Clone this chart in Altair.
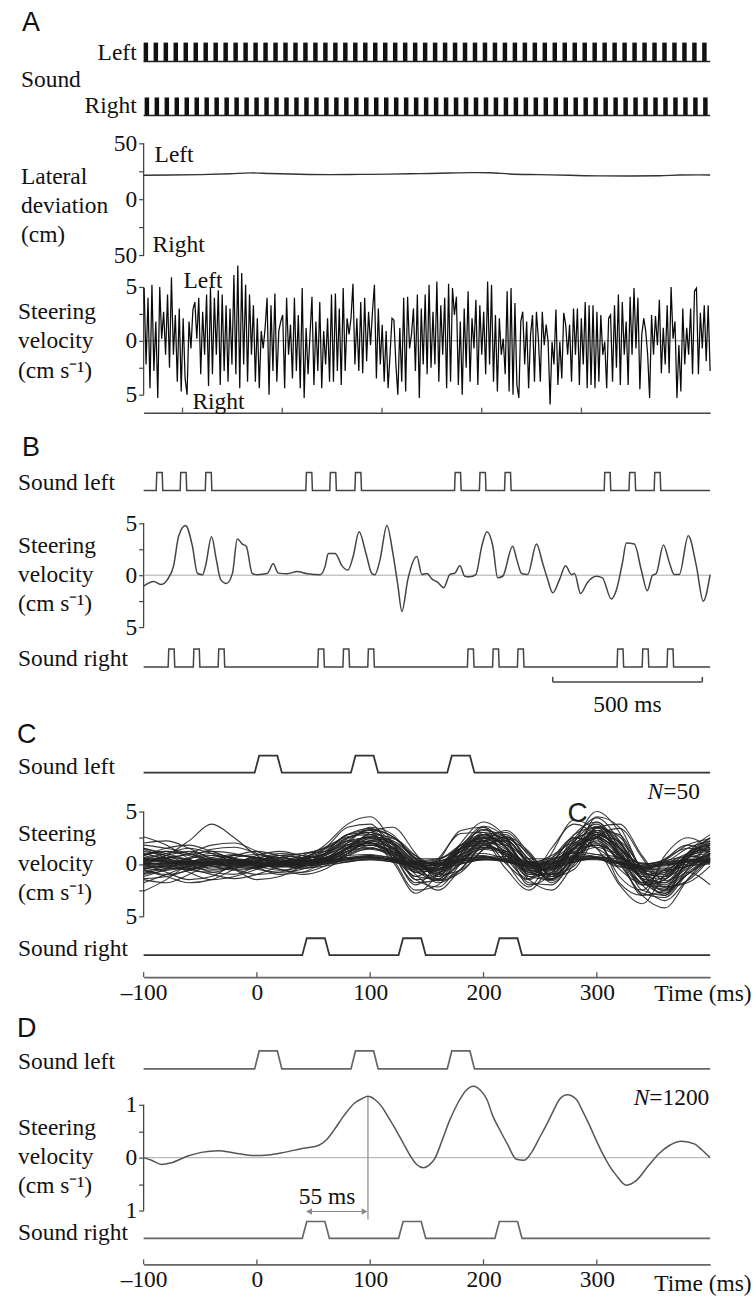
import altair as alt
import numpy as np
import pandas as pd

SERIF = "Liberation Serif"
SANS = "Liberation Sans"
X0 = 143   # image x of the plot-area left edge
W = 568    # plot-area width

# ---------------------------------------------------------------- data
# Panel A (time in s)
A_DOMAIN = [-0.39, 5.29]
A_TICKS = [0, 1, 2, 3, 4]
A_LEFT_ON = [-0.39, -0.29, -0.19, -0.09, 0.01, 0.11, 0.21, 0.31, 0.41, 0.51, 0.61, 0.71, 0.81, 0.91,
             1.01, 1.11, 1.21, 1.31, 1.41, 1.51, 1.61, 1.71, 1.81, 1.91, 2.01, 2.11, 2.21, 2.31, 2.41,
             2.51, 2.61, 2.71, 2.81, 2.91, 3.01, 3.11, 3.21, 3.31, 3.41, 3.51, 3.61, 3.71, 3.81, 3.91,
             4.01, 4.11, 4.21, 4.31, 4.41, 4.51, 4.61, 4.71, 4.81, 4.91, 5.01, 5.11, 5.21]
A_RIGHT_ON = [-0.38, -0.28, -0.18, -0.08, 0.02, 0.12, 0.22, 0.32, 0.42, 0.52, 0.62, 0.72, 0.82, 0.92,
              1.02, 1.12, 1.22, 1.32, 1.42, 1.52, 1.62, 1.72, 1.82, 1.92, 2.02, 2.12, 2.22, 2.32, 2.42,
              2.52, 2.62, 2.72, 2.82, 2.92, 3.02, 3.12, 3.22, 3.32, 3.42, 3.52, 3.62, 3.72, 3.82, 3.92,
              4.02, 4.12, 4.22, 4.32, 4.42, 4.52, 4.62, 4.72, 4.82, 4.92, 5.02, 5.12, 5.22]
A_PULSE = 0.045
A_LAT_T = [-0.39, -0.12, 0.18, 0.48, 0.68, 0.88, 1.18, 1.48, 1.78, 2.08, 2.38, 2.68, 2.88, 3.08, 3.28,
           3.58, 3.88, 4.18, 4.48, 4.78, 4.98, 5.18, 5.29]
A_LAT_V = [21.5, 21.6, 22.0, 22.8, 23.6, 23.0, 22.3, 22.0, 22.2, 22.4, 22.9, 23.4, 23.8, 23.7, 22.6,
           22.0, 21.4, 20.9, 20.8, 21.0, 21.6, 21.8, 21.7]
A_STEER_1 = [4.9, -2.2, 4.0, -4.4, 5.2, -2.8, 1.8, -5.3, 5.0, 0.2, 2.7, -1.3, 4.3, -2.5, 5.9, -1.3, 2.4,
             -3.8, 3.0, -4.7, 2.1, -3.5, -5.0, 1.8, -0.7, 2.9, 3.6, 0.2, 4.0, -3.1, 2.7, -1.3, 4.3, -4.2,
             4.9, -3.1, 4.0, -1.3, 4.7, -4.1, 4.3, -2.8, 3.3, -3.8, 3.0, -2.2, 6.1, -3.1, 7.0, -4.4, 6.3,
             -2.2, 5.2, -3.8, 4.3, -1.3, 3.3, -3.8, 2.1, -4.4, 0.9, -0.7, 1.2, 4.0, -5.0, 3.3, -2.8, 4.4,
             -3.8, 0.9, 1.8, 2.4, -4.4, 4.0, -1.3, 1.5, -3.5, 4.0, -2.8, 2.4, -4.4, 4.9, -5.3, 1.2, -3.1,
             0.6, 4.1, -4.1, 1.8, -2.8, 3.6, -4.4, 0.9, -2.2, 2.1, -3.8]
A_STEER_2 = [4.3, -3.8, 4.4, -2.8, 3.0, -4.1, 4.9, -2.8, 2.1, 0.6, 2.1, 5.3, -2.2, 2.1, -2.8, 3.6, -3.0,
             4.0, -1.9, 2.7, -0.4, 2.7, 5.2, -3.5, 3.0, -2.2, 1.5, -3.8, 0.9, -4.4, -1.3, 2.1, 1.9, -2.2,
             -5.0, 1.2, -3.8, 4.0, -4.7, 4.1, -0.7, 0.6, 3.0, -2.8, 4.3, -5.3, 3.0, -2.2, 4.3, -3.1, 5.2,
             -2.5, 2.7, -2.2, 5.5, -3.8, 3.3, -1.3, 4.0, -4.4, 5.3, -3.8, 4.9, 2.4, 4.1, -4.1, 1.8, -5.0,
             3.0, -2.5, 4.6, -3.8, 2.1, -0.7, 3.8, -4.1, 3.3, -1.3, 2.7, -3.1, 5.5, -2.2, 5.2, -3.8, 2.4,
             -4.7, 2.1, -1.3, 0.2, -3.1, 4.6, -4.7, 4.9, -5.0, 3.5, -4.1, -5.3, 1.8, 2.7, -2.2]
A_STEER_3 = [1.8, -4.4, 0.6, 2.4, -3.8, 2.7, 0.2, -3.8, 2.7, -0.4, 1.5, -0.1, -5.9, -0.1, -2.2, 2.9,
             -4.1, -0.1, -3.5, 2.6, 1.5, -1.3, 1.5, -3.8, 3.0, -1.3, 3.0, -4.1, 2.1, -2.2, 3.6, -4.4, 3.3,
             -4.1, 3.3, -4.4, 2.7, -3.8, 2.4, -1.3, -0.1, -4.4, 2.1, 2.4, -3.8, 3.3, -2.5, 4.3, -4.1, 3.6,
             -1.3, 1.8, -4.1, 4.1, -1.3, 4.9, -0.7, 4.0, -4.5, 0.6, 2.1, 0.9, -1.3, -5.3, 2.4, -1.3, 2.3,
             -0.4, 3.8, -3.0, 1.2, -2.2, 3.3, -3.0, 5.0, 0.2, 1.8, -5.3, -0.4, -4.7, 3.0, -2.2, 1.2, -1.3,
             3.0, -3.1, 4.6, 4.9, -3.1, 2.6, -0.7, 3.3, -1.9, 3.3, -2.8]

# Panel B (time in ms)
B_DOMAIN = [0, 1893]
B_LEFT_ON = [43, 123, 207, 543, 623, 707, 1040, 1123, 1207, 1540, 1623, 1707]
B_RIGHT_ON = [83, 167, 250, 583, 667, 750, 1083, 1167, 1250, 1583, 1667, 1750]
B_PULSE = 20
B_T = [0, 33, 57, 80, 100, 117, 140, 163, 180, 197, 207, 227, 243, 257, 277, 297, 313, 330, 343, 363,
       380, 413, 433, 450, 480, 513, 547, 590, 607, 617, 640, 663, 683, 700, 720, 743, 763, 773, 790,
       813, 833, 850, 863, 883, 913, 930, 947, 963, 983, 1003, 1023, 1040, 1057, 1073, 1090, 1110,
       1130, 1147, 1167, 1183, 1200, 1233, 1247, 1263, 1283, 1313, 1333, 1350, 1367, 1390, 1410, 1430,
       1440, 1460, 1483, 1513, 1533, 1563, 1580, 1600, 1613, 1640, 1663, 1683, 1700, 1713, 1737, 1757,
       1773, 1790, 1820, 1847, 1870, 1893]
B_V = [-1.06, -0.6, -0.9, -0.4, 0.87, 3.75, 4.8, 2.8, 0.16, 0.05, 0.9, 3.7, 1.5, -0.4, -0.8, 0.2, 3.5,
       3.0, 2.8, 0.16, 0.05, 0.16, 1.1, 0.2, 0.15, 0.35, 0.15, 0.05, 0.9, 2.1, 2.1, 0.9, 0.5, 1.8, 4.2,
       2.1, 0.16, 0.05, 1.5, 4.8, 2.1, -1.06, -3.5, -0.4, 1.8, 0.06, 0.16, -0.35, -0.7, -1.2, 0.06, 0.2,
       0.9, -0.1, -0.15, 0.06, 2.8, 4.2, 2.8, -0.25, -0.1, 2.8, 1.5, 0.16, 0.06, 3.0, 1.2, -0.4, -1.7,
       -0.4, 0.9, 0.06, 0.16, -1.76, -0.7, -0.1, -0.25, -2.3, -1.4, 1.2, 3.1, 3.0, 0.5, -1.5, -0.03,
       0.16, 2.9, 1.2, 0.06, 0.06, 3.8, 0.9, -2.5, 0.06]
B_BAR = [1367, 1867]

# Panels C and D (time in ms)
CD_DOMAIN = [-100, 400]
CD_TICKS = [-100, 0, 100, 200, 300]
CD_LEFT_ON = [0, 85, 170]
CD_RIGHT_ON = [42, 127, 212]
CD_PULSE = 20
C_T = [-100, -80, -60, -40, -20, 0, 20, 40, 60, 80, 100, 120, 140, 160, 180, 200, 220, 240, 260, 280,
       300, 320, 340, 360, 380, 400]
C_TRACES = [
    [0.5, 0.2, -0.3, 0.1, 0.4, 0.2, 0.0, 0.3, 1.2, 2.8, 3.2, 1.5, -1.2, 0.5, 2.9, 3.0, 0.5, -1.4, 1.5, 3.8, 2.5, -1.2, -2.5, 0.3, 1.8, 1.0],
    [1.2, 0.8, 0.3, -0.2, -0.5, -0.3, 0.2, 0.6, 1.5, 3.5, 3.8, 1.0, -2.0, 0.2, 3.2, 3.5, 0.2, -2.2, 1.0, 4.2, 3.0, -1.8, -3.0, 0.8, 2.5, 1.5],
    [-0.5, -1.0, -0.6, 0.2, 0.8, 0.5, 0.0, -0.2, 0.5, 1.8, 2.5, 2.0, 0.0, -0.5, 1.5, 2.8, 1.5, -1.0, 0.0, 2.8, 3.5, 0.5, -2.0, -1.5, 1.0, 2.0],
    [0.2, 0.3, 0.1, 0.0, 0.2, 0.1, 0.0, 0.1, 0.3, 0.6, 0.8, 0.4, 0.0, 0.2, 0.7, 0.8, 0.2, -0.2, 0.4, 1.0, 0.6, -0.3, -0.4, 0.2, 0.4, 0.3],
    [2.6, 1.8, 0.5, -0.5, -0.2, 0.5, 1.0, 0.8, 0.5, 1.5, 2.0, 0.8, -0.8, -0.3, 1.8, 2.2, 0.0, -1.5, 0.5, 2.5, 2.0, -0.5, -1.8, -0.5, 0.8, 0.2],
    [-2.6, -1.5, 0.0, 0.8, 0.5, -0.2, -0.6, -0.3, 0.8, 2.2, 2.0, 0.2, -2.8, -1.0, 1.5, 2.0, -0.5, -2.5, 0.0, 2.5, 1.5, -2.0, -3.8, -1.0, 0.5, 0.0],
    [0.0, 0.8, 2.2, 3.8, 2.5, 0.8, -0.2, 0.0, 0.6, 1.2, 1.5, 1.0, 0.3, 0.5, 1.5, 1.8, 1.0, 0.0, 0.8, 2.0, 1.5, 0.0, -0.8, 0.5, 1.5, 1.2],
    [0.8, 0.2, -0.8, -1.5, -1.2, -0.5, 0.2, 0.5, 1.0, 2.0, 2.6, 2.2, 0.8, -0.2, 0.8, 2.2, 2.5, 0.5, -0.8, 1.0, 3.2, 2.8, -0.5, -2.0, 0.0, 1.8],
    [-1.2, -0.5, 0.5, 1.0, 0.5, -0.3, -1.0, -0.8, 0.2, 1.5, 3.0, 3.5, 1.0, -1.5, -0.5, 2.0, 3.2, 1.0, -1.8, 0.5, 4.5, 3.5, -0.8, -3.0, -0.5, 2.0],
    [-0.3, -0.2, 0.0, 0.2, 0.1, -0.1, -0.2, 0.0, 0.2, 0.5, 0.7, 0.3, -0.3, 0.0, 0.5, 0.7, 0.2, -0.3, 0.2, 0.8, 0.6, -0.2, -0.5, 0.0, 0.3, 0.2],
    [1.8, 1.5, 1.0, 0.2, -0.5, -1.0, -0.8, 0.0, 1.0, 2.5, 3.0, 1.8, -0.5, -0.8, 1.5, 3.3, 2.0, -0.5, -1.0, 1.5, 4.0, 1.5, -2.5, -3.0, 0.5, 2.5],
    [0.0, -0.8, -1.5, -1.2, 0.0, 0.8, 1.2, 0.8, 0.5, 1.5, 2.8, 2.5, 0.5, -0.8, 0.5, 2.5, 2.8, 0.0, -1.5, 0.8, 3.5, 2.0, -1.0, -2.2, -0.2, 1.0],
    [0.5, 1.0, 1.5, 1.0, 0.2, -0.2, 0.0, 0.5, 1.8, 3.8, 4.5, 2.0, -1.5, -1.0, 2.0, 4.0, 2.5, -1.2, -1.5, 2.0, 5.0, 3.0, -1.5, -2.8, 0.5, 2.0],
    [0.4, 0.2, -0.1, -0.2, 0.0, 0.2, 0.3, 0.2, 0.2, 0.4, 0.6, 0.4, 0.1, 0.1, 0.4, 0.6, 0.3, 0.0, 0.2, 0.6, 0.5, 0.0, -0.2, 0.1, 0.4, 0.5],
    [-1.5, -1.8, -1.0, 0.0, 0.5, 0.2, -0.5, -0.8, -0.2, 1.0, 2.2, 2.0, 0.0, -1.8, -0.5, 1.8, 2.2, 0.2, -1.2, 0.8, 2.8, 1.5, -1.5, -2.5, -1.0, 0.5],
    [1.0, 0.5, 0.0, 0.2, 0.8, 1.2, 0.8, 0.2, 0.5, 2.0, 3.5, 2.8, 0.2, -1.0, 1.0, 3.0, 2.2, -0.3, -0.5, 2.2, 3.8, 1.0, -2.0, -1.5, 1.0, 1.8],
    [-0.2, -0.4, -0.5, -0.3, -0.1, 0.0, -0.2, -0.4, -0.2, 0.2, 0.4, 0.2, -0.3, -0.4, 0.0, 0.4, 0.3, -0.2, -0.3, 0.2, 0.5, 0.1, -0.5, -0.6, -0.2, 0.0],
    [0.2, 0.8, 1.2, 0.5, -0.5, -1.5, -1.2, -0.2, 1.0, 2.8, 3.0, 0.5, -2.5, -2.0, 1.0, 3.5, 1.5, -2.0, -1.0, 2.8, 4.0, 0.8, -3.0, -2.5, 1.0, 2.8],
    [1.5, 0.8, 0.0, -0.8, -1.0, -0.2, 0.5, 1.0, 1.2, 1.8, 2.2, 1.5, 0.5, 0.5, 1.5, 2.5, 2.0, 0.5, 0.5, 2.0, 2.8, 1.5, 0.0, 0.2, 1.5, 2.2],
    [-0.8, -0.2, 0.5, 0.8, 0.5, 0.0, -0.5, -1.0, -0.5, 0.8, 1.8, 1.2, -1.0, -2.5, -0.5, 1.5, 1.0, -1.5, -2.5, 0.0, 2.5, 1.0, -2.0, -3.5, -1.5, 0.5],
    [0.1, 0.0, 0.2, 0.4, 0.3, 0.1, 0.0, 0.1, 0.4, 0.8, 0.9, 0.5, 0.1, 0.3, 0.8, 1.0, 0.5, 0.1, 0.4, 1.1, 0.9, 0.2, -0.1, 0.3, 0.7, 0.6],
    [0.8, 1.5, 1.8, 1.2, 0.5, 0.0, -0.3, 0.0, 0.8, 2.2, 3.3, 2.6, 0.6, 0.0, 1.2, 2.8, 2.4, 0.2, -0.2, 1.8, 3.6, 2.2, -0.8, -1.2, 0.8, 2.2],
    [-0.6, -1.2, -1.8, -1.5, -0.5, 0.3, 0.8, 0.6, 0.2, 0.8, 1.5, 0.8, -1.5, -2.2, 0.0, 1.8, 0.8, -1.8, -2.0, 0.5, 2.2, 0.2, -2.8, -3.2, -1.0, 0.2],
    [-0.1, 0.1, 0.3, 0.2, 0.0, -0.2, -0.1, 0.1, 0.3, 0.6, 0.7, 0.4, 0.0, 0.0, 0.4, 0.7, 0.4, 0.0, 0.1, 0.7, 0.7, 0.2, -0.2, -0.1, 0.3, 0.5],
    [2.0, 2.2, 1.5, 0.5, 0.0, 0.3, 0.8, 1.0, 1.5, 2.5, 3.0, 2.0, 0.0, -0.2, 1.8, 3.2, 2.5, 0.0, -0.5, 1.5, 3.2, 2.0, -0.5, -1.0, 1.0, 2.5],
    [0.0, -0.3, -0.5, 0.0, 0.6, 0.9, 0.5, 0.0, 0.3, 1.5, 2.0, 0.8, -1.8, -1.5, 0.8, 2.5, 1.0, -1.2, -0.8, 1.5, 2.5, 0.0, -3.0, -4.2, -1.5, 1.0],
    [0.6, 0.0, -0.6, -0.8, -0.3, 0.3, 0.6, 0.3, 0.6, 1.8, 2.6, 1.8, -0.4, -0.6, 1.4, 2.6, 1.6, -0.6, -0.4, 1.6, 3.0, 1.2, -1.2, -1.4, 0.6, 1.5],
    [0.3, 0.4, 0.2, 0.0, -0.1, 0.0, 0.2, 0.3, 0.3, 0.5, 0.6, 0.3, -0.1, -0.1, 0.3, 0.5, 0.3, -0.1, 0.0, 0.5, 0.5, 0.0, -0.3, -0.2, 0.2, 0.4],
    [-1.8, -1.0, -0.2, 0.2, 0.0, -0.5, -0.8, -0.5, 0.2, 1.2, 1.6, 0.6, -1.2, -1.4, 0.2, 1.6, 1.2, -0.8, -1.2, 0.6, 2.0, 0.4, -1.8, -2.2, -0.8, -2.0],
    [0.4, 0.6, 0.9, 1.2, 1.0, 0.5, 0.2, 0.4, 1.0, 2.2, 2.5, 1.4, 0.2, 0.4, 1.8, 2.4, 1.4, 0.2, 0.6, 2.4, 3.0, 1.4, 0.0, 0.4, 1.8, 2.4],
    [1.0, 0.4, -0.4, -1.0, -1.4, -1.0, -0.2, 0.5, 1.2, 2.4, 3.2, 2.6, 0.5, -0.8, 0.8, 2.8, 3.0, 0.8, -1.0, 0.6, 3.5, 3.8, 0.8, -1.6, -0.4, 1.4],
    [-0.2, 0.0, 0.1, 0.0, -0.2, -0.3, -0.1, 0.1, 0.2, 0.4, 0.5, 0.2, -0.2, -0.2, 0.2, 0.5, 0.3, -0.2, -0.2, 0.4, 0.6, 0.1, -0.4, -0.4, 0.0, 0.3],
    [0.0, 0.5, 1.0, 1.8, 2.0, 1.2, 0.3, -0.2, 0.3, 1.5, 2.0, 1.0, -0.8, -0.5, 1.2, 2.0, 0.8, -0.8, -0.3, 1.5, 2.4, 0.8, -1.2, -0.8, 0.8, 1.2],
    [-0.4, -0.6, -0.2, 0.4, 0.8, 0.6, 0.2, -0.2, 0.0, 1.0, 2.2, 2.4, 0.8, -1.0, -0.6, 1.4, 2.6, 1.2, -1.2, -0.5, 2.6, 3.4, 0.6, -2.2, -1.6, 0.5],
    [0.9, 1.2, 0.8, 0.2, -0.3, -0.4, 0.0, 0.4, 0.9, 1.6, 1.8, 1.0, 0.0, 0.2, 1.2, 1.6, 1.0, 0.0, 0.3, 1.4, 1.8, 0.8, -0.4, 0.0, 1.0, 1.4],
    [-1.0, -0.6, 0.0, 0.5, 0.3, 0.0, 0.0, 0.2, 0.6, 1.4, 2.4, 2.0, 0.2, -1.0, 0.4, 2.2, 2.2, 0.0, -1.4, 0.8, 3.0, 1.8, -1.4, -2.4, -0.6, 1.0],
    [0.0, 0.1, 0.0, -0.1, 0.0, 0.1, 0.1, 0.0, 0.1, 0.3, 0.4, 0.2, 0.0, 0.0, 0.3, 0.4, 0.2, -0.1, 0.0, 0.4, 0.4, 0.0, -0.2, 0.0, 0.2, 0.2],
    [0.5, 0.3, 0.2, 0.1, 0.2, 0.3, 0.2, 0.0, 0.0, 0.2, 0.5, 0.5, 0.2, 0.0, 0.1, 0.4, 0.5, 0.2, 0.0, 0.2, 0.6, 0.5, 0.1, -0.1, 0.2, 0.4],
    [-0.4, -0.2, 0.1, 0.3, 0.2, 0.0, -0.2, -0.2, 0.0, 0.4, 0.8, 0.6, 0.0, -0.4, 0.0, 0.6, 0.7, 0.0, -0.4, 0.2, 0.9, 0.6, -0.3, -0.6, -0.2, 0.2],
    [1.5, 1.0, 0.4, 0.0, 0.2, 0.6, 0.8, 0.6, 0.8, 1.8, 2.0, 1.2, -0.2, 0.0, 1.4, 2.2, 1.2, -0.4, 0.0, 1.8, 2.6, 1.0, -1.0, -0.6, 0.6, 1.0],
    [0.8, 1.2, 1.0, 0.4, 0.0, -0.2, 0.2, 0.8, 1.6, 2.6, 2.8, 1.2, -0.6, -0.2, 1.8, 2.8, 1.6, -0.8, -0.2, 2.2, 3.2, 0.8, -1.8, -1.2, 0.8, 1.6],
    [-0.9, -0.4, 0.2, 0.6, 0.9, 0.6, 0.0, -0.4, 0.0, 1.2, 2.0, 1.4, -0.6, -1.6, 0.2, 2.0, 1.8, -0.6, -1.6, 0.4, 2.8, 1.6, -1.6, -2.8, -0.8, 0.6],
    [0.2, -0.2, -0.4, -0.1, 0.3, 0.5, 0.4, 0.3, 0.6, 1.4, 1.8, 1.2, 0.2, 0.0, 0.9, 1.6, 1.2, 0.1, 0.0, 1.2, 1.8, 0.8, -0.6, -0.8, 0.2, 0.8],
    [1.4, 0.6, -0.2, -0.6, -0.4, 0.2, 0.6, 0.4, 0.4, 1.6, 2.6, 2.2, 0.4, -1.2, 0.0, 2.4, 2.6, 0.4, -1.4, 0.2, 3.4, 2.6, -0.6, -2.6, -1.0, 0.8],
    [-0.5, 0.0, 0.6, 1.4, 1.6, 1.0, 0.2, -0.2, 0.4, 1.6, 2.4, 1.6, -0.4, -0.6, 1.2, 2.6, 1.8, -0.4, -0.6, 1.4, 2.6, 1.0, -1.4, -1.8, 0.0, 1.0],
    [0.6, 0.2, 0.0, 0.2, 0.4, 0.2, -0.2, -0.2, 0.3, 1.0, 1.4, 0.8, -0.4, -0.6, 0.6, 1.4, 0.8, -0.6, -0.6, 0.8, 1.6, 0.6, -0.8, -1.2, -0.2, 0.4],
    [-1.4, -1.2, -0.6, 0.0, 0.4, 0.4, 0.2, 0.0, 0.2, 1.2, 2.0, 1.6, -0.2, -1.6, -0.8, 1.4, 2.4, 1.0, -1.0, -0.2, 2.6, 2.2, -0.4, -2.2, -1.8, -0.2],
    [0.3, 0.6, 0.4, -0.2, -0.6, -0.4, 0.2, 0.6, 1.4, 2.8, 3.4, 2.0, -0.8, -1.2, 1.6, 3.6, 2.4, -1.0, -1.0, 2.4, 4.4, 2.2, -1.4, -1.8, 0.6, 1.8],
]
D_T = [-100, -93, -84, -76, -61, -49, -34, -20, -2, 10, 24, 39, 54, 61, 68, 77, 86, 93, 98, 104, 110, 115,
       122, 129, 135, 141, 147, 152, 157, 163, 170, 177, 185, 191, 197, 203, 208, 215, 221, 229, 236, 243,
       250, 256, 262, 267, 274, 282, 287, 293, 299, 305, 311, 317, 326, 335, 346, 355, 364, 375, 386, 393,
       400]
D_V = [0, -0.05, -0.13, -0.10, 0.03, 0.10, 0.13, 0.09, 0.04, 0.05, 0.10, 0.17, 0.23, 0.33, 0.52, 0.80,
       1.03, 1.12, 1.16, 1.10, 0.97, 0.80, 0.55, 0.28, 0.05, -0.13, -0.19, -0.14, -0.02, 0.30, 0.70, 1.02,
       1.28, 1.35, 1.28, 1.10, 0.80, 0.50, 0.26, -0.03, -0.05, 0.12, 0.40, 0.64, 0.90, 1.10, 1.19, 1.10,
       0.90, 0.64, 0.35, 0.08, -0.15, -0.33, -0.52, -0.43, -0.14, 0.08, 0.23, 0.31, 0.26, 0.14, 0.0]
D_PEAK = [98, 1.16]
D_LAG = [43, 98]

# ---------------------------------------------------------------- helpers
DUMMY = pd.DataFrame({"k": [0]})


def pulse_path(onsets, dur, ramp, dom):
    pts = [(dom[0], 0.0)]
    for s in onsets:
        pts += [(s - ramp / 2, 0.0), (s + ramp / 2, 1.0), (s + dur - ramp / 2, 1.0), (s + dur + ramp / 2, 0.0)]
    pts.append((dom[1], 0.0))
    return pd.DataFrame({"t": [p[0] for p in pts], "v": [p[1] for p in pts], "o": list(range(len(pts)))})


class Row:
    def __init__(self, top, bot, xdom, v1, p1, v2, p2):
        self.top, self.bot, self.h = top, bot, bot - top
        self.xdom = xdom
        k = (p2 - p1) / (v1 - v2)
        self.ydom = [v1 - (bot - p1) / k, v1 + (p1 - top) / k]
        self.xaxis = None
        self.yaxis = None
        self.layers = []

    def X(self, f):
        return alt.X(f, type="quantitative", scale=alt.Scale(domain=self.xdom, nice=False, zero=False),
                     axis=self.xaxis, title=None)

    def Y(self, f):
        return alt.Y(f, type="quantitative", scale=alt.Scale(domain=self.ydom, nice=False, zero=False),
                     axis=self.yaxis, title=None)

    def add(self, ch):
        self.layers.append(ch)

    def text(self, s, ix, iy, size=23.5, font=SERIF, align="left", baseline="middle", style="normal",
             color="#111"):
        self.layers.append(
            alt.Chart(DUMMY).mark_text(font=font, fontSize=size, align=align, baseline=baseline,
                                       fontStyle=style, color=color)
            .encode(x=alt.value(ix - X0), y=alt.value(iy - self.top), text=alt.value(s)))

    def yline(self, lo, hi):
        self.add(alt.Chart(pd.DataFrame({"a": [lo], "b": [hi]})).mark_rule(color="#444", strokeWidth=1.3)
                 .encode(x=alt.value(0), y=self.Y("a"), y2=alt.Y2("b")))

    def zero(self, color="#aaa"):
        self.add(alt.Chart(pd.DataFrame({"t0": [self.xdom[0]], "t1": [self.xdom[1]], "v": [0]}))
                 .mark_rule(color=color, strokeWidth=1).encode(x=self.X("t0"), x2=alt.X2("t1"), y=self.Y("v")))

    def ticks_up(self, vals):
        self.add(alt.Chart(pd.DataFrame({"t": vals})).mark_rule(color="#555", strokeWidth=1.3)
                 .encode(x=self.X("t"), y=alt.value(self.h), y2=alt.value(self.h - 5)))

    def pulses(self, onsets, dur, ramp, color, width):
        d = pulse_path(onsets, dur, ramp, self.xdom)
        self.add(alt.Chart(d).mark_line(color=color, strokeWidth=width)
                 .encode(x=self.X("t"), y=self.Y("v"), order="o:Q"))

    def chart(self):
        return alt.layer(*self.layers).properties(width=W, height=self.h)


def steer_axis(vals, half):
    return alt.Axis(values=vals, domain=False, grid=False, ticks=True, tickSize=5, tickColor="#444",
                    tickWidth=1.2, labelFont=SERIF, labelFontSize=23.5, labelColor="#111", labelPadding=2,
                    labelOverlap=False,
                    labelExpr="abs(datum.value) == %s ? '' : format(abs(datum.value), 'd')" % half)


def time_axis(labels):
    if labels:
        return alt.Axis(values=CD_TICKS, domain=True, domainColor="#666", domainWidth=1.8, ticks=False,
                        grid=False, labels=True, labelFont=SERIF, labelFontSize=23.5, labelColor="#111",
                        labelPadding=3, labelFlush=False, labelOverlap=False,
                        labelExpr="datum.value < 0 ? '\u2013' + format(abs(datum.value), 'd') : format(datum.value, 'd')")
    return alt.Axis(values=A_TICKS, domain=True, domainColor="#444", domainWidth=1.5, ticks=False,
                    grid=False, labels=False)


def square_rects(row, onsets, dur):
    d = pd.DataFrame({"t0": onsets, "t1": [s + dur for s in onsets], "y0": 0.0, "y1": 1.0})
    row.add(alt.Chart(d).mark_rect(color="#111")
            .encode(x=row.X("t0"), x2=alt.X2("t1"), y=row.Y("y0"), y2=alt.Y2("y1")))
    row.add(alt.Chart(pd.DataFrame({"t0": [row.xdom[0]], "t1": [row.xdom[1]], "v": [0.0]}))
            .mark_rule(color="#222", strokeWidth=1.5).encode(x=row.X("t0"), x2=alt.X2("t1"), y=row.Y("v")))


rows = []

# ---------------- Panel A
r = Row(10, 80, A_DOMAIN, 1, 42, 0, 61)
square_rects(r, A_LEFT_ON, A_PULSE)
r.text("A", 21, 9, size=27, font=SANS, baseline="top")
r.text("Left", 136, 52, align="right")
r.text("Sound", 20, 80)
rows.append(r)

r = Row(80, 126, A_DOMAIN, 1, 97, 0, 115)
square_rects(r, A_RIGHT_ON, A_PULSE)
r.text("Right", 136, 106, align="right")
rows.append(r)

r = Row(126, 270, A_DOMAIN, 50, 143, -50, 255)
r.yaxis = steer_axis([-50, -25, 0, 25, 50], 25)
r.yline(-50, 50)
r.add(alt.Chart(pd.DataFrame({"t": A_LAT_T, "v": A_LAT_V})).mark_line(color="#333", strokeWidth=1.4,
                                                                     interpolate="monotone")
      .encode(x=r.X("t"), y=r.Y("v")))
r.text("Left", 154, 155)
r.text("Right", 152, 245)
r.text("Lateral", 20, 177)
r.text("deviation", 20, 206)
r.text("(cm)", 20, 235)
rows.append(r)

r = Row(270, 413, A_DOMAIN, 5, 287, -5, 395)
r.yaxis = steer_axis([-5, -2.5, 0, 2.5, 5], 2.5)
r.xaxis = time_axis(False)
a_v = A_STEER_1 + A_STEER_2 + A_STEER_3
a_t = np.linspace(-0.385, 5.29, len(a_v))
r.yline(-5, 5)
r.zero(color="#888")
r.add(alt.Chart(pd.DataFrame({"t": a_t, "v": a_v})).mark_line(color="#0a0a0a", strokeWidth=1.25)
      .encode(x=r.X("t"), y=r.Y("v")))
r.ticks_up(A_TICKS)
r.text("Left", 183, 281)
r.text("Right", 192, 402)
r.text("Steering", 17, 312)
r.text("velocity", 17, 341)
r.text("(cm s\u207b\u00b9)", 17, 371)
rows.append(r)

# ---------------- Panel B
r = Row(413, 520, B_DOMAIN, 1, 473, 0, 491)
r.pulses(B_LEFT_ON, B_PULSE, 2, "#444", 1.5)
r.text("B", 21, 435, size=27, font=SANS, baseline="top")
r.text("Sound left", 17, 484)
rows.append(r)

r = Row(520, 640, B_DOMAIN, 5, 524, -5, 628)
r.yaxis = steer_axis([-5, -2.5, 0, 2.5, 5], 2.5)
r.yline(-5, 5)
r.zero()
r.add(alt.Chart(pd.DataFrame({"t": B_T, "v": B_V})).mark_line(color="#444", strokeWidth=1.5,
                                                             interpolate="monotone")
      .encode(x=r.X("t"), y=r.Y("v")))
r.text("Steering", 17, 547)
r.text("velocity", 17, 576)
r.text("(cm s\u207b\u00b9)", 17, 605)
rows.append(r)

r = Row(640, 720, B_DOMAIN, 1, 650, 0, 668)
r.pulses(B_RIGHT_ON, B_PULSE, 2, "#444", 1.5)
r.add(alt.Chart(pd.DataFrame({"t0": [B_BAR[0]], "t1": [B_BAR[1]]})).mark_rule(color="#444", strokeWidth=1.5)
      .encode(x=r.X("t0"), x2=alt.X2("t1"), y=alt.value(683 - 640)))
r.add(alt.Chart(pd.DataFrame({"t": B_BAR})).mark_rule(color="#444", strokeWidth=1.5)
      .encode(x=r.X("t"), y=alt.value(683 - 640), y2=alt.value(678 - 640)))
r.text("Sound right", 17, 660)
r.text("500 ms", 628, 706, align="center")
rows.append(r)

# ---------------- Panel C
r = Row(720, 800, CD_DOMAIN, 1, 757, 0, 774)
r.pulses(CD_LEFT_ON, CD_PULSE, 4, "#333", 1.8)
r.text("C", 16, 723, size=27, font=SANS, baseline="top")
r.text("Sound left", 17, 768)
r.text("N", 664, 793, align="right", style="italic")
r.text("=50", 664, 793)
rows.append(r)

r = Row(800, 930, CD_DOMAIN, 5, 813, -5, 918)
r.yaxis = steer_axis([-5, -2.5, 0, 2.5, 5], 2.5)
r.yline(-5, 5)
c_rows = []
for i, tr in enumerate(C_TRACES):
    for t, v in zip(C_T, tr):
        c_rows.append({"id": i, "t": t, "v": v})
r.add(alt.Chart(pd.DataFrame(c_rows)).mark_line(color="#222", strokeWidth=1.1, opacity=0.9,
                                                interpolate="monotone")
      .encode(x=r.X("t"), y=r.Y("v"), detail="id:N"))
r.text("Steering", 17, 836)
r.text("velocity", 17, 866)
r.text("(cm s\u207b\u00b9)", 17, 895)
r.text("C", 578, 815, size=28, font=SANS, align="center", color="#222")
rows.append(r)

r = Row(930, 979, CD_DOMAIN, 1, 940, 0, 957)
r.xaxis = time_axis(True)
r.pulses(CD_RIGHT_ON, CD_PULSE, 4, "#333", 1.8)
r.ticks_up(CD_TICKS)
r.text("Sound right", 17, 951)
r.text("Time (ms)", 655, 996)
rows.append(r)

# ---------------- Panel D
r = Row(979, 1085, CD_DOMAIN, 1, 1053, 0, 1071)
r.pulses(CD_LEFT_ON, CD_PULSE, 4, "#666", 1.7)
r.text("D", 16, 1018, size=27, font=SANS, baseline="top")
r.text("Sound left", 17, 1064)
rows.append(r)

r = Row(1085, 1225, CD_DOMAIN, 1, 1107, -1, 1213)
r.yaxis = steer_axis([-1, -0.5, 0, 0.5, 1], 0.5)
r.yline(-1, 1)
r.zero()
r.add(alt.Chart(pd.DataFrame({"t": [D_PEAK[0]], "v": [D_PEAK[1]]})).mark_rule(color="#888", strokeWidth=1.2)
      .encode(x=r.X("t"), y=r.Y("v"), y2=alt.value(1222 - 1085)))
r.add(alt.Chart(pd.DataFrame({"t": D_T, "v": D_V})).mark_line(color="#555", strokeWidth=1.5,
                                                             interpolate="monotone")
      .encode(x=r.X("t"), y=r.Y("v")))
r.add(alt.Chart(pd.DataFrame({"t0": [D_LAG[0] + 2], "t1": [D_LAG[1] - 2]})).mark_rule(color="#888", strokeWidth=1.2)
      .encode(x=r.X("t0"), x2=alt.X2("t1"), y=alt.value(1214 - 1085)))
r.add(alt.Chart(pd.DataFrame({"t": [D_LAG[0] + 3]})).mark_point(shape="triangle-left", filled=True,
                                                                color="#888", size=45, opacity=1)
      .encode(x=r.X("t"), y=alt.value(1214 - 1085)))
r.add(alt.Chart(pd.DataFrame({"t": [D_LAG[1] - 3]})).mark_point(shape="triangle-right", filled=True,
                                                                color="#888", size=45, opacity=1)
      .encode(x=r.X("t"), y=alt.value(1214 - 1085)))
r.text("55 ms", 327, 1199, align="center")
r.text("N", 650, 1100, align="right", style="italic")
r.text("=1200", 650, 1100)
r.text("Steering", 17, 1130)
r.text("velocity", 17, 1159)
r.text("(cm s\u207b\u00b9)", 17, 1188)
rows.append(r)

r = Row(1225, 1267, CD_DOMAIN, 1, 1224, 0, 1241)
r.xaxis = time_axis(True)
r.pulses(CD_RIGHT_ON, CD_PULSE, 4, "#666", 1.7)
r.ticks_up(CD_TICKS)
r.text("Sound right", 17, 1236)
r.text("Time (ms)", 655, 1287)
rows.append(r)

chart = (
    alt.vconcat(*[rw.chart() for rw in rows], spacing=0, bounds="flush")
    .properties(padding={"left": 17, "top": 7, "right": 4, "bottom": 4}, background="white")
    .configure_view(stroke=None)
)

chart.save("out.html", embed_options={"renderer": "svg", "actions": False})
